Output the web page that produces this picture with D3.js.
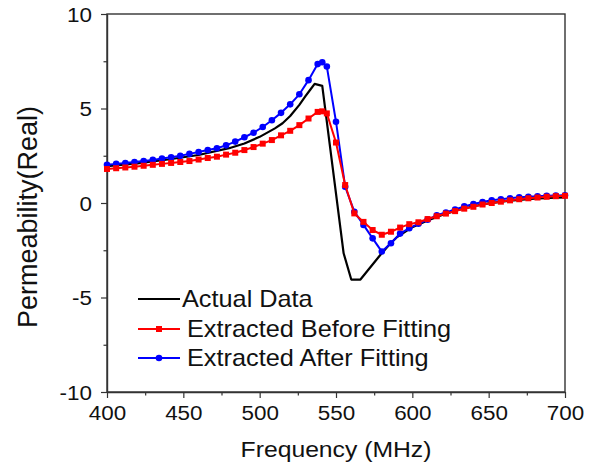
<!DOCTYPE html>
<html>
<head>
<meta charset="utf-8">
<script src="https://cdn.jsdelivr.net/npm/d3@7"></script>
<style>
  html, body { margin: 0; padding: 0; background: #fff; }
  svg { display: block; font-family: "Liberation Sans", Arial, sans-serif; }
</style>
</head>
<body>
<svg id="chart" width="598" height="468"></svg>
<script>
// ---------- DATA ----------
const freq = [400,406,412,418,424,430,436,442,448,454,460,466,472,478,484,490,496,502,508,514,520,526,532,538,541,544,550,556,562,568,574,580,586,592,598,604,610,616,622,628,634,640,646,652,658,664,670,676,682,688,694,700];
const afterFitting = [2.02,2.07,2.12,2.17,2.22,2.28,2.35,2.42,2.5,2.6,2.7,2.8,2.9,3.05,3.25,3.48,3.72,4.02,4.38,4.77,5.22,5.75,6.5,7.35,7.45,7.22,4.3,0.86,-0.46,-1.16,-1.87,-2.57,-2.13,-1.62,-1.33,-1.1,-0.88,-0.65,-0.5,-0.34,-0.18,-0.05,0.05,0.14,0.2,0.25,0.3,0.33,0.36,0.38,0.4,0.41];
const beforeFitting = [1.8,1.84,1.88,1.92,1.97,2.02,2.07,2.12,2.17,2.22,2.3,2.38,2.45,2.56,2.66,2.8,2.96,3.14,3.33,3.58,3.82,4.12,4.47,4.82,4.85,4.74,3.2,0.95,-0.55,-1.0,-1.43,-1.68,-1.52,-1.3,-1.12,-1.02,-0.85,-0.7,-0.56,-0.43,-0.3,-0.2,-0.08,0.0,0.07,0.14,0.2,0.25,0.29,0.33,0.36,0.38];
const actualFreq = [400,420,440,460,480,490,500,510,515,520,526,530,533,536,541,555,560,566,579,585,590,600,610,620,630,640,650,660,670,680,690,700];
const actualData = [1.95,2.1,2.3,2.54,2.9,3.15,3.5,3.95,4.22,4.6,5.19,5.65,5.98,6.3,6.2,-2.66,-4.05,-4.05,-2.75,-2.2,-1.8,-1.28,-0.92,-0.62,-0.37,-0.17,-0.02,0.09,0.17,0.23,0.27,0.3];
const xTicks = [400,450,500,550,600,650,700];
const yTicks = [-10,-5,0,5,10];
const seriesNames = ["Actual Data","Extracted Before Fitting","Extracted After Fitting"];
const xTitle = "Frequency (MHz)";
const yTitle = "Permeability(Real)";

// ---------- LAYOUT ----------
const L = 107, R = 565, T = 14, B = 392;
const svg = d3.select("#chart");
const x = d3.scaleLinear().domain([400,700]).range([L,R]);
const y = d3.scaleLinear().domain([-10,10]).range([B,T]);
const SX = 1.15; // horizontal text stretch of reference

// frame (top/right)
svg.append("rect").attr("x",L).attr("y",T).attr("width",R-L).attr("height",B-T)
  .attr("fill","none").attr("stroke","#333").attr("stroke-width",1.4);

// x axis
const gx = svg.append("g").attr("transform",`translate(0,${B})`)
  .call(d3.axisBottom(x).tickValues(d3.range(400,701,25)).tickSizeInner(6).tickSizeOuter(0)
    .tickFormat(d => xTicks.includes(d) ? d : ""));
gx.selectAll(".tick line").attr("y2", d => xTicks.includes(d) ? 6 : 3.5);
// y axis
const gy = svg.append("g").attr("transform",`translate(${L},0)`)
  .call(d3.axisLeft(y).tickValues(d3.range(-10,10.1,2.5)).tickSizeInner(6).tickSizeOuter(0)
    .tickFormat(d => yTicks.includes(d) ? d : ""));
gy.selectAll(".tick line").attr("x2", d => yTicks.includes(d) ? -6 : -3.5);
[gx,gy].forEach(g => {
  g.select(".domain").attr("stroke","#333").attr("stroke-width",1.4);
  g.selectAll(".tick line").attr("stroke","#333").attr("stroke-width",1.2);
  g.selectAll("text").attr("font-family","Liberation Sans, Arial, sans-serif")
    .attr("font-size",19.5).attr("fill","#111");
});
gx.selectAll(".tick text").attr("y",14).attr("dy","0.71em")
  .attr("transform",`scale(${SX},1)`);
gy.selectAll(".tick text").attr("x",-15/SX).attr("dy","0.36em")
  .attr("transform",`scale(${SX},1)`);

// lines
const line = d3.line().x(d => x(d[0])).y(d => y(d[1]));
const actualPts = actualFreq.map((f,i)=>[f,actualData[i]]);
const beforePts = freq.map((f,i)=>[f,beforeFitting[i]]);
const afterPts = freq.map((f,i)=>[f,afterFitting[i]]);

svg.append("path").datum(actualPts).attr("d",line).attr("fill","none")
  .attr("stroke","#000").attr("stroke-width",2.2).attr("stroke-linejoin","round");
svg.append("path").datum(afterPts).attr("d",line).attr("fill","none")
  .attr("stroke","#0000ff").attr("stroke-width",2).attr("stroke-linejoin","round");
svg.append("g").selectAll("circle").data(afterPts).join("circle")
  .attr("cx",d=>x(d[0])).attr("cy",d=>y(d[1])).attr("r",3.3).attr("fill","#0000ff");
svg.append("path").datum(beforePts).attr("d",line).attr("fill","none")
  .attr("stroke","#ff0000").attr("stroke-width",2).attr("stroke-linejoin","round");
svg.append("g").selectAll("rect").data(beforePts).join("rect")
  .attr("x",d=>x(d[0])-3).attr("y",d=>y(d[1])-3).attr("width",6).attr("height",6).attr("fill","#ff0000");

// legend
const legendRows = [
  {name: seriesNames[0], color:"#000", marker:null, ly:299, tx:182},
  {name: seriesNames[1], color:"#ff0000", marker:"square", ly:329, tx:187},
  {name: seriesNames[2], color:"#0000ff", marker:"circle", ly:358, tx:187}
];
legendRows.forEach(r => {
  svg.append("line").attr("x1",138).attr("x2",180).attr("y1",r.ly).attr("y2",r.ly)
    .attr("stroke",r.color).attr("stroke-width",2.2);
  if (r.marker === "square")
    svg.append("rect").attr("x",159-3).attr("y",r.ly-3).attr("width",6).attr("height",6).attr("fill",r.color);
  if (r.marker === "circle")
    svg.append("circle").attr("cx",159).attr("cy",r.ly).attr("r",3.3).attr("fill",r.color);
  svg.append("text").attr("transform",`translate(${r.tx},${r.ly+8}) scale(1.1,1)`)
    .attr("font-size",23).attr("fill","#111").text(r.name);
});

// titles
svg.append("text").attr("transform",`translate(336,457) scale(${SX},1)`)
  .attr("text-anchor","middle").attr("font-size",21.5).attr("fill","#111").text(xTitle);
svg.append("text").attr("transform",`translate(37,217) rotate(-90)`)
  .attr("text-anchor","middle").attr("font-size",27).attr("fill","#111").text(yTitle);
</script>
</body>
</html>
